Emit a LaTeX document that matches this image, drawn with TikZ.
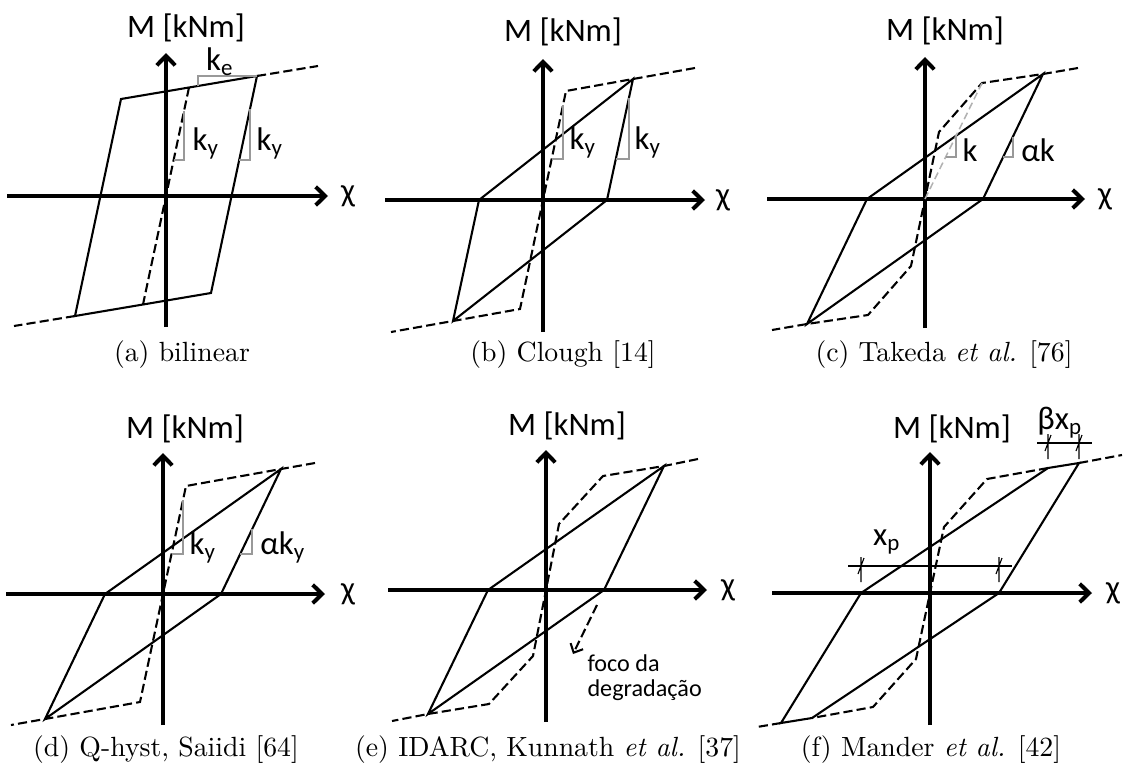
\documentclass[tikz,border=0pt]{standalone}
\usepackage{fontspec}
\newfontfamily\lblfont{Carlito}
\usetikzlibrary{arrows.meta}

\begin{document}
\begin{tikzpicture}[
    x=0.36pt, y=0.36pt,
    axis/.style={line width=1.45pt, -{Straight Barb[length=3.4pt,width=6.6pt]}},
    loop/.style={line width=0.75pt, line join=miter},
    env/.style={line width=0.75pt, dash pattern=on 3.3pt off 1.5pt},
    slope/.style={line width=0.55pt, draw=black!40},
    dim/.style={line width=0.4pt},
    lbl/.style={font=\lblfont\fontsize{11.8}{14}\selectfont, inner sep=0pt},
    note/.style={font=\lblfont\fontsize{8.7}{9.2}\selectfont, inner sep=0pt, align=left},
    subcap/.style={font=\normalsize, inner sep=0pt}
]
\newcommand{\dimtick}[1]{\draw[dim] (#1) +(0,-16) -- +(0,9) +(-3,-8) -- +(3,8);}
\useasboundingbox (0,0) rectangle (1124,769);

% --- (a) bilinear ---
\begin{scope}[shift={(166,573)}]
\coordinate (aO) at (0,0);
\coordinate (aW) at (-159,0);  \coordinate (aE) at (162,0);
\coordinate (aS) at (0,-131);  \coordinate (aN) at (0,143);
\draw[axis] (aW) -- (aE);
\draw[axis] (aS) -- (aN);
\node[lbl] (aM) at (20,168) {M [kNm]};
\node[lbl] (achi) at (182,0) {χ};
\coordinate (aA) at (-45,97);  \coordinate (aB) at (91,120);
\coordinate (aC) at (45,-97);  \coordinate (aD) at (-91,-120);
\coordinate (aBx) at (152,130); \coordinate (aDx) at (-152,-130);
\coordinate (aY1) at (23,108.5); \coordinate (aY2) at (-23,-108.5);
\draw[loop] (aA) -- (aB) -- (aC) -- (aD) -- cycle;
\draw[env] (aB) -- (aBx);
\draw[env] (aD) -- (aDx);
\draw[env] (aY1) -- (aY2);
% slope marks
\draw[slope] (32,110) -- (32,120) -- (91,120);
\draw[slope] (18,85) -- (18,36) -- (7.6,36);
\draw[slope] (84,87) -- (84,36) -- (73.2,36);
\node[lbl] (ake) at (54,134) {k\textsubscript{e}};
\node[lbl] (aky1) at (40,53) {k\textsubscript{y}};
\node[lbl] (aky2) at (104,53) {k\textsubscript{y}};
\end{scope}
\node[subcap] (capa) at (182,414) {(a) bilinear};

% --- (b) Clough ---
\begin{scope}[shift={(543,569)}]
\coordinate (bO) at (0,0);
\coordinate (bW) at (-158,0);  \coordinate (bE) at (162,0);
\coordinate (bS) at (0,-132);  \coordinate (bN) at (0,141);
\draw[axis] (bW) -- (bE);
\draw[axis] (bS) -- (bN);
\node[lbl] (bM) at (20,168) {M [kNm]};
\node[lbl] (bchi) at (180,0) {χ};
\coordinate (bP1) at (90,121);  \coordinate (bP2) at (-90,-121);
\coordinate (bR) at (64,0);     \coordinate (bL) at (-64,0);
\coordinate (bK1) at (23,109);  \coordinate (bK2) at (-23,-109);
\coordinate (bP1x) at (152,132); \coordinate (bP2x) at (-152,-132);
\draw[loop] (bP1) -- (bR) -- (bP2) -- (bL) -- cycle;
\draw[env] (bP1x) -- (bP1) -- (bK1) -- (bO) -- (bK2) -- (bP2) -- (bP2x);
% slope marks
\draw[slope] (20,95) -- (20,41) -- (8.6,41);
\draw[slope] (86,102) -- (86,41) -- (72.8,41);
\node[lbl] (bky1) at (40,58) {k\textsubscript{y}};
\node[lbl] (bky2) at (105,58) {k\textsubscript{y}};
\end{scope}
\node[subcap] (capb) at (563,414) {(b) Clough [14]};

% --- (c) Takeda ---
\begin{scope}[shift={(925,570)}]
\coordinate (cO) at (0,0);
\coordinate (cW) at (-158,0);  \coordinate (cE) at (160,0);
\coordinate (cS) at (0,-129);  \coordinate (cN) at (0,142);
\draw[axis] (cW) -- (cE);
\draw[axis] (cS) -- (cN);
\node[lbl] (cM) at (20,168) {M [kNm]};
\node[lbl] (cchi) at (180,0) {χ};
\coordinate (cP1) at (118,125);  \coordinate (cP2) at (-118,-125);
\coordinate (cR) at (58,0);      \coordinate (cL) at (-58,0);
\coordinate (cK1) at (57,116);   \coordinate (cK2) at (-57,-116);
\coordinate (cC1) at (14,67);    \coordinate (cC2) at (-14,-67);
\coordinate (cP1x) at (153,131); \coordinate (cP2x) at (-153,-131);
\draw[loop] (cP1) -- (cR) -- (cP2) -- (cL) -- cycle;
\draw[env] (cP1x) -- (cP1) -- (cK1) -- (cC1) -- (cO) -- (cC2) -- (cK2) -- (cP2) -- (cP2x);
\draw[slope, draw=black!30, dash pattern=on 2.6pt off 1.4pt] (cO) -- (cK1);
% slope marks
\draw[slope] (31,63) -- (31,42) -- (20.6,42);
\draw[slope] (88,62.5) -- (88,42) -- (78.2,42);
\node[lbl] (ck) at (45,49) {k};
\node[lbl] (cak) at (113,49) {αk};
\end{scope}
\node[subcap] (capc) at (944,414) {(c) Takeda \textit{et al.} [76]};

% --- (d) Q-hyst ---
\begin{scope}[shift={(163,175)}]
\coordinate (dO) at (0,0);
\coordinate (dW) at (-157,0);  \coordinate (dE) at (162,0);
\coordinate (dS) at (0,-131);  \coordinate (dN) at (0,141);
\draw[axis] (dW) -- (dE);
\draw[axis] (dS) -- (dN);
\node[lbl] (dM) at (22,165) {M [kNm]};
\node[lbl] (dchi) at (185,0) {χ};
\coordinate (dP1) at (118,125);  \coordinate (dP2) at (-118,-125);
\coordinate (dR) at (58,0);      \coordinate (dL) at (-58,0);
\coordinate (dK1) at (23,108);   \coordinate (dK2) at (-23,-108);
\coordinate (dP1x) at (152,131); \coordinate (dP2x) at (-152,-131);
\draw[loop] (dP1) -- (dR) -- (dP2) -- (dL) -- cycle;
\draw[env] (dP1x) -- (dP1) -- (dK1) -- (dO) -- (dK2) -- (dP2) -- (dP2x);
% slope marks
\draw[slope] (20,94) -- (20,40) -- (8.5,40);
\draw[slope] (89,64.6) -- (89,40) -- (77.2,40);
\node[lbl] (dky) at (40,47) {k\textsubscript{y}};
\node[lbl] (daky) at (120,47) {αk\textsubscript{y}};
\end{scope}
\node[subcap] (capd) at (166,19) {(d) Q-hyst, Saiidi [64]};

% --- (e) IDARC ---
\begin{scope}[shift={(546,179)}]
\coordinate (eO) at (0,0);
\coordinate (eW) at (-158,0);  \coordinate (eE) at (161,0);
\coordinate (eS) at (0,-132);  \coordinate (eN) at (0,140);
\draw[axis] (eW) -- (eE);
\draw[axis] (eS) -- (eN);
\node[lbl] (eM) at (21,164) {M [kNm]};
\node[lbl] (echi) at (182,0) {χ};
\coordinate (eP1) at (118,124);  \coordinate (eP2) at (-118,-124);
\coordinate (eR) at (58,0);      \coordinate (eL) at (-58,0);
\coordinate (eK1) at (57,114);   \coordinate (eK2) at (-57,-114);
\coordinate (eC1) at (13,66);    \coordinate (eC2) at (-13,-66);
\coordinate (eP1x) at (152,131); \coordinate (eP2x) at (-154,-131);
\draw[loop] (eP1) -- (eR) -- (eP2) -- (eL) -- cycle;
\draw[env] (eP1x) -- (eP1) -- (eK1) -- (eC1) -- (eO) -- (eC2) -- (eK2) -- (eP2) -- (eP2x);
% degradation focus
\coordinate (eF1) at (51,-15);  \coordinate (eF2) at (27,-64);
\draw[env, -{Straight Barb[length=2.6pt,width=5pt]}] (eF1) -- (eF2);
\node[note, anchor=north west] (efoco) at (41,-64) {foco da\\degradação};
\end{scope}
\node[subcap] (cape) at (548,19) {(e) IDARC, Kunnath \textit{et al.} [37]};

% --- (f) Mander ---
\begin{scope}[shift={(930,176)}]
\coordinate (fO) at (0,0);
\coordinate (fW) at (-158,0);  \coordinate (fE) at (162,0);
\coordinate (fS) at (0,-132);  \coordinate (fN) at (0,141);
\draw[axis] (fW) -- (fE);
\draw[axis] (fS) -- (fN);
\node[lbl] (fM) at (22,164) {M [kNm]};
\node[lbl] (fchi) at (183,0) {χ};
\coordinate (fP1) at (149,130);  \coordinate (fQ1) at (118,125);
\coordinate (fR) at (69,0);      \coordinate (fL) at (-69,0);
\coordinate (fQ2) at (-118,-125); \coordinate (fP2) at (-149,-130);
\coordinate (fK1) at (57,114);   \coordinate (fK2) at (-57,-114);
\coordinate (fC1) at (14,66);    \coordinate (fC2) at (-14,-66);
\coordinate (fP1x) at (192,138); \coordinate (fP2x) at (-173,-134);
\draw[loop] (fL) -- (fQ1) -- (fP1) -- (fR) -- (fQ2) -- (fP2) -- cycle;
\draw[env] (fP1) -- (fP1x);
\draw[env] (fP2) -- (fP2x);
\draw[env] (fQ1) -- (fK1) -- (fC1) -- (fO) -- (fC2) -- (fK2) -- (fQ2);
% dimensions
\coordinate (fX1) at (-82,27);  \coordinate (fX2) at (82,27);
\coordinate (fB1) at (107,150); \coordinate (fB2) at (162,150);
\draw[dim] (fX1) -- (fX2);
\draw[dim] (fB1) -- (fB2);
\dimtick{-69,27}
\dimtick{69,27}
\dimtick{118,150}
\dimtick{149,150}
\node[lbl] (fxp) at (-43,51) {x\textsubscript{p}};
\node[lbl] (fbxp) at (130,170) {βx\textsubscript{p}};
\end{scope}
\node[subcap] (capf) at (931,19) {(f) Mander \textit{et al.} [42]};
\end{tikzpicture}
\end{document}
